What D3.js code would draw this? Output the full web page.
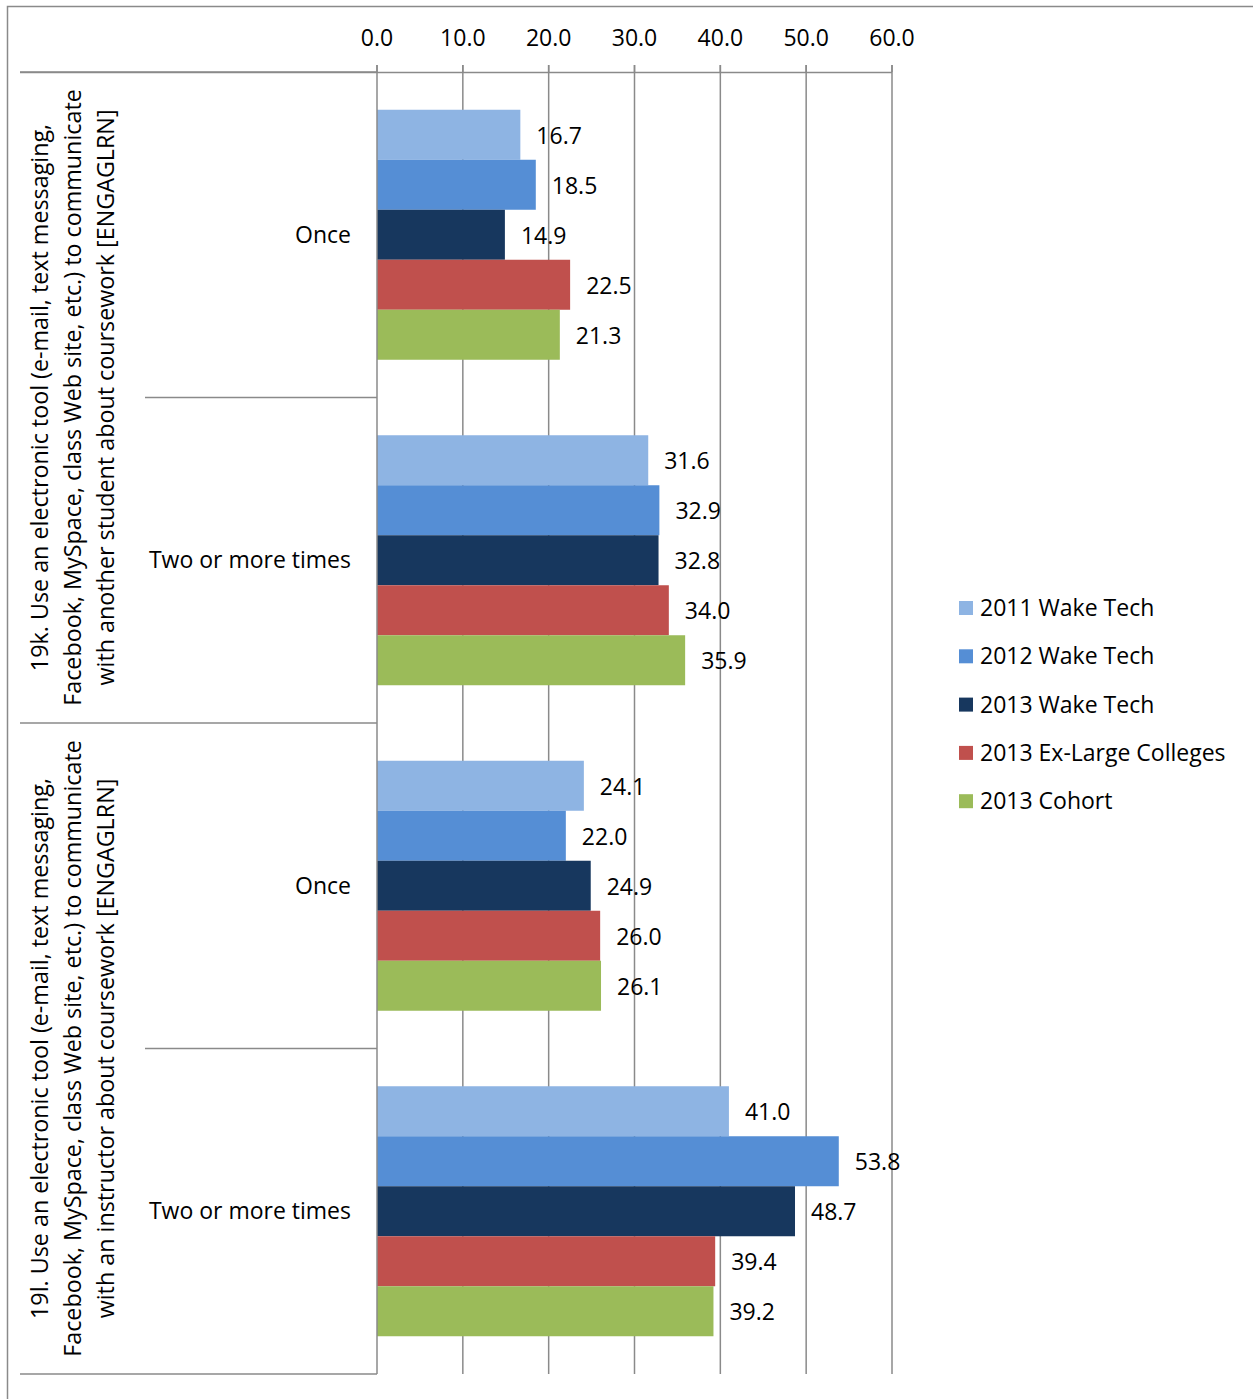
<!DOCTYPE html>
<html><head><meta charset="utf-8">
<script src="https://cdn.jsdelivr.net/npm/d3@7"></script>
<style>body{margin:0;background:#fff}svg{display:block}text{font-family:"Open Sans",sans-serif;fill:#000}</style>
</head><body>
<svg id="c" width="1253" height="1399"></svg>
<script>
const series = ["2011 Wake Tech","2012 Wake Tech","2013 Wake Tech","2013 Ex-Large Colleges","2013 Cohort"];
const colors = ["#8EB4E3","#558ED5","#17375E","#C0504D","#9BBB59"];
const questions = [
  ["19k. Use an electronic tool (e-mail, text messaging,","Facebook, MySpace, class Web site, etc.) to communicate","with another student about coursework [ENGAGLRN]"],
  ["19l. Use an electronic tool (e-mail, text messaging,","Facebook, MySpace, class Web site, etc.) to communicate","with an instructor about coursework [ENGAGLRN]"]
];
const answers = ["Once","Two or more times"];
const s2011 = [16.7,31.6,24.1,41.0];
const s2012 = [18.5,32.9,22.0,53.8];
const s2013 = [14.9,32.8,24.9,48.7];
const sExL  = [22.5,34.0,26.0,39.4];
const sCoh  = [21.3,35.9,26.1,39.2];
const values = [s2011,s2012,s2013,sExL,sCoh];
const ticks = [0,10,20,30,40,50,60];

const svg = d3.select("#c");
const grid = "#8a8a8a";
const fs = 23;
// outer border
svg.append("rect").attr("x",7.5).attr("y",6.5).attr("width",1400).attr("height",1500)
  .attr("fill","none").attr("stroke",grid).attr("stroke-width",1.5);

const x = d3.scaleLinear().domain([0,60]).range([377,892]);
const rows = d3.range(answers.length*questions.length);
const y = d3.scaleBand().domain(rows).range([72,1374]);
const yi = d3.scaleBand().domain(d3.range(series.length)).range([0,y.bandwidth()]).paddingOuter(0.755);
const yq = d3.scaleBand().domain(d3.range(questions.length)).range([72,1374]);

// gridlines
svg.append("g").selectAll("line").data(ticks.slice(1)).join("line")
  .attr("x1",d=>x(d)).attr("x2",d=>x(d)).attr("y1",65).attr("y2",1374)
  .attr("stroke",grid).attr("stroke-width",1.5);

// bars
const cats = rows.map(r=>({r, vals: values.map((s,i)=>({i, v:s[r]}))}));
const g = svg.append("g").selectAll("g").data(cats).join("g")
  .attr("transform",d=>`translate(0,${y(d.r)})`);
g.selectAll("rect").data(d=>d.vals).join("rect")
  .attr("x",x(0)).attr("y",d=>yi(d.i)).attr("width",d=>x(d.v)-x(0)).attr("height",yi.bandwidth())
  .attr("fill",d=>colors[d.i]);
g.selectAll("text").data(d=>d.vals).join("text")
  .attr("x",d=>x(d.v)+16).attr("y",d=>yi(d.i)+yi.bandwidth()/2+1).attr("dy","0.35em")
  .attr("font-size",fs).text(d=>d.v.toFixed(1));

// top axis
const ax = svg.append("g");
ax.append("line").attr("x1",20).attr("x2",x(60)).attr("y1",72.5).attr("y2",72.5).attr("stroke",grid).attr("stroke-width",1.5);
ax.selectAll("line.t").data(ticks).join("line").attr("class","t")
  .attr("x1",d=>x(d)).attr("x2",d=>x(d)).attr("y1",65).attr("y2",72).attr("stroke",grid).attr("stroke-width",1.5);
ax.selectAll("text").data(ticks).join("text")
  .attr("x",d=>x(d)).attr("y",38).attr("dy","0.35em").attr("text-anchor","middle")
  .attr("font-size",fs).text(d=>d.toFixed(1));

// vertical axis line
svg.append("line").attr("x1",377).attr("x2",377).attr("y1",65).attr("y2",1374).attr("stroke",grid).attr("stroke-width",1.5);

// category separators
const inner = rows.filter(r=>r%answers.length!==0);
svg.append("g").selectAll("line").data(inner).join("line")
  .attr("x1",145).attr("x2",377).attr("y1",d=>y(d)).attr("y2",d=>y(d)).attr("stroke",grid).attr("stroke-width",1.5);
const outer = d3.range(questions.length+1);
svg.append("g").selectAll("line").data(outer).join("line")
  .attr("x1",20).attr("x2",377).attr("y1",d=>72+d*yq.bandwidth()).attr("y2",d=>72+d*yq.bandwidth()).attr("stroke",grid).attr("stroke-width",1.5);

// answer labels
svg.append("g").selectAll("text").data(rows).join("text")
  .attr("x",351).attr("y",d=>y(d)+y.bandwidth()/2).attr("dy","0.35em").attr("text-anchor","end")
  .attr("font-size",fs).text(d=>answers[d%answers.length]);

// question labels
questions.forEach((q,qi)=>{
  const cy = yq(qi)+yq.bandwidth()/2;
  const t = svg.append("text").attr("transform",`translate(40,${cy}) rotate(-90)`)
    .attr("text-anchor","middle").attr("font-size",23.3);
  q.forEach((line,li)=>{
    t.append("tspan").attr("x",0).attr("y",li*33).attr("dy","0.35em").text(line);
  });
});

// legend
const lg = svg.append("g").selectAll("g").data(series).join("g")
  .attr("transform",(d,i)=>`translate(959,${608+i*48.3})`);
lg.append("rect").attr("x",0).attr("y",-7).attr("width",14).attr("height",14).attr("fill",(d,i)=>colors[i]);
lg.append("text").attr("x",21).attr("y",0).attr("dy","0.35em").attr("font-size",fs).text(d=>d);
</script>
</body></html>
